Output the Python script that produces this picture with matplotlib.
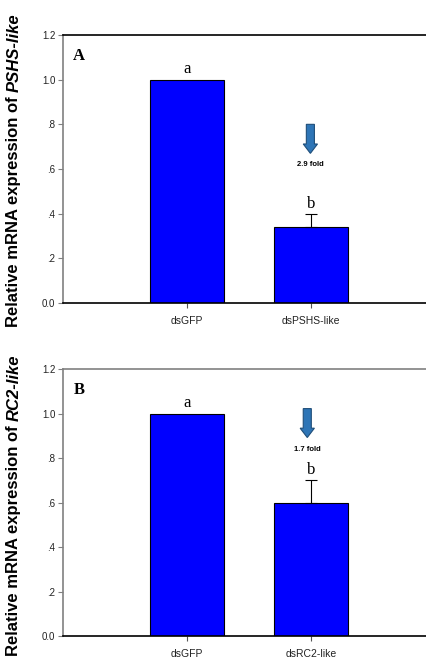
import matplotlib
matplotlib.use("Agg")
import matplotlib.pyplot as plt
from matplotlib.patches import FancyArrow

# ---- data ----
cats_a = ["dsGFP", "dsPSHS-like"]
vals_a = [1.0, 0.34]
err_a = [0.0, 0.06]
letters_a = ["a", "b"]
fold_a = "2.9 fold"
gene_a = "PSHS-like"

cats_b = ["dsGFP", "dsRC2-like"]
vals_b = [1.0, 0.60]
err_b = [0.0, 0.10]
letters_b = ["a", "b"]
fold_b = "1.7 fold"
gene_b = "RC2-like"

yticks = [0.0, 0.2, 0.4, 0.6, 0.8, 1.0, 1.2]
yticklabels = ["0.0", ".2", ".4", ".6", ".8", "1.0", "1.2"]

W, H = 427, 659
fig = plt.figure(figsize=(W / 100, H / 100), dpi=100)

def px_axes(left, top, right, bottom):
    return fig.add_axes([left / W, 1 - bottom / H, (right - left) / W, (bottom - top) / H])

panels = [
    dict(cats=cats_a, vals=vals_a, err=err_a, letters=letters_a, fold=fold_a, gene=gene_a,
         tag="A", box=(63, 35, 435, 303), topcol="black",
         arrow=(0.995, 0.80, 0.13), foldy=0.62, lbl_bottom=327),
    dict(cats=cats_b, vals=vals_b, err=err_b, letters=letters_b, fold=fold_b, gene=gene_b,
         tag="B", box=(63, 369, 435, 636), topcol="#808080",
         arrow=(0.97, 1.022, 0.13), foldy=0.84, lbl_bottom=656),
]

renderer = fig.canvas.get_renderer()

for p in panels:
    ax = px_axes(*p["box"])
    x = list(range(len(p["cats"])))
    ax.bar(x, p["vals"], width=0.6, color="#0000FF", edgecolor="black", linewidth=0.8, zorder=2)
    ax.errorbar(x[1], p["vals"][1], yerr=[[0], [p["err"][1]]], fmt="none",
                ecolor="black", elinewidth=0.8, capsize=4, capthick=0.8, zorder=3)
    ax.set_xlim(-1, 2)
    ax.set_ylim(0, 1.2)
    ax.set_yticks(yticks)
    ax.set_yticklabels(yticklabels, fontsize=7, family="Liberation Sans", color="#222222")
    ax.set_xticks(x)
    ax.set_xticklabels(p["cats"], fontsize=7.5, family="Liberation Sans", color="#222222")
    ax.tick_params(axis="both", direction="out", length=3.5, width=0.8)
    ax.tick_params(axis="y", colors="#808080", labelcolor="#222222", pad=2)
    ax.tick_params(axis="x", colors="#555555", labelcolor="#222222", pad=6)
    ax.spines["right"].set_visible(False)
    ax.spines["left"].set_color("#808080")
    ax.spines["left"].set_linewidth(1.2)
    ax.spines["top"].set_color(p["topcol"])
    ax.spines["top"].set_linewidth(1.2)
    ax.spines["bottom"].set_color("black")
    ax.spines["bottom"].set_linewidth(1.2)

    # significance letters
    ax.text(x[0], p["vals"][0] + 0.012, p["letters"][0], ha="center", va="bottom",
            fontsize=12, family="Liberation Serif")
    ax.text(x[1], p["vals"][1] + p["err"][1] + 0.008, p["letters"][1], ha="center", va="bottom",
            fontsize=12, family="Liberation Serif")
    # panel tag
    ax.text(-0.87, 1.105, p["tag"], ha="center", va="center", fontsize=12,
            family="Liberation Serif", fontweight="bold")
    # arrow
    ax_x, ax_y, alen = p["arrow"]
    arr = FancyArrow(ax_x, ax_y, 0, -alen, width=0.065, head_width=0.115, head_length=0.042,
                     length_includes_head=True, facecolor="#2E75B6", edgecolor="#1F4E79",
                     linewidth=0.8, zorder=4)
    ax.add_patch(arr)
    ax.text(ax_x, p["foldy"], p["fold"], ha="center", va="center", fontsize=5.5,
            fontweight="bold", family="Liberation Sans")

    # y label (regular part + italic gene name)
    yb = 1 - p["lbl_bottom"] / H
    t1 = fig.text(14 / W, yb, "Relative mRNA expression of", rotation=90, ha="center", va="bottom",
                  fontsize=12, fontweight="bold", family="Liberation Sans")
    bb = t1.get_window_extent(renderer)
    t2 = fig.text(14 / W, (bb.y1 + 4) / H, p["gene"], rotation=90, ha="center", va="bottom",
                  fontsize=12, fontweight="bold", fontstyle="italic", family="Liberation Sans")

fig.savefig("out.png", dpi=100)
